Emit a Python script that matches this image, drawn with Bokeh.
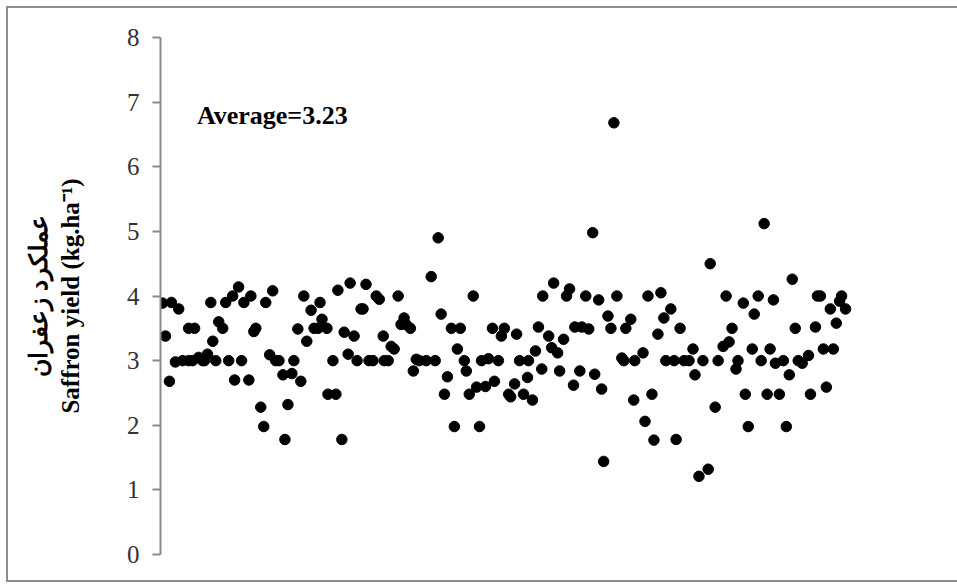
from bokeh.plotting import figure
from bokeh.models import Range1d, Label, FixedTicker, ColumnDataSource
from bokeh.embed import file_html
from bokeh.resources import INLINE

# sample position (order of samples) and saffron yield (kg/ha)
sample = [0.6, 1.5, 2.7, 3.3, 4.5, 5.5, 6.7, 8.5, 8.5, 9.7, 10.3, 11.5, 12.7, 13.3, 14.2, 15.2, 15.8, 16.7, 17.6, 18.8,
          19.7, 20.6, 21.8, 22.4, 23.6, 24.5, 25.2, 26.7, 27.3, 28.2, 28.8, 30.3, 31.2, 31.8, 33.0, 33.9, 34.8, 35.8, 37.0, 37.6,
          38.5, 39.7, 40.3, 41.5, 42.4, 43.3, 44.2, 45.5, 46.4, 47.6, 48.2, 48.8, 50.3, 50.6, 52.1, 53.0, 53.6, 54.8, 55.5, 56.7,
          57.3, 58.5, 59.4, 60.6, 61.2, 62.1, 63.0, 64.2, 65.2, 66.1, 67.3, 67.6, 68.8, 69.7, 70.6, 71.8, 72.7, 73.6, 74.2, 75.5,
          76.4, 77.3, 78.2, 80.3, 81.8, 83.0, 83.9, 84.8, 85.8, 86.7, 87.9, 88.8, 89.7, 90.6, 91.8, 92.4, 93.3, 94.5, 95.5, 96.4,
          97.0, 98.2, 99.1, 100.3, 100.9, 102.1, 103.0, 103.9, 105.2, 105.8, 107.0, 107.6, 108.5, 109.7, 110.9, 111.2, 112.4, 113.3, 114.2, 115.2,
          115.5, 117.3, 118.2, 118.8, 120.0, 120.6, 121.8, 122.7, 123.6, 124.8, 125.2, 126.7, 127.3, 128.5, 129.4, 130.6, 131.2, 132.4, 133.3, 133.9,
          135.2, 136.1, 137.0, 137.9, 139.4, 140.0, 140.6, 142.1, 143.3, 143.0, 145.8, 146.4, 147.3, 148.5, 149.1, 150.3, 151.2, 152.1, 152.7, 154.2,
          155.2, 155.8, 157.0, 158.2, 159.7, 160.9, 161.5, 162.7, 163.9, 165.5, 166.1, 167.6, 168.5, 170.0, 170.9, 171.8, 172.7, 173.9, 174.5, 176.1,
          176.7, 177.6, 178.8, 179.4, 180.6, 181.5, 182.4, 183.3, 184.2, 185.2, 185.8, 187.0, 188.2, 189.1, 190.0, 190.9, 191.8, 192.7, 193.9, 195.8,
          196.4, 197.9, 198.5, 199.4, 200.3, 201.2, 202.4, 203.3, 204.2, 205.2, 205.8, 207.0]
yield_kg = [3.89, 3.38, 2.68, 3.90, 2.98, 3.80, 3.00, 3.50, 3.00, 3.00, 3.50, 3.05, 3.00, 3.00, 3.10, 3.90, 3.30, 3.00, 3.60, 3.50,
            3.90, 3.00, 4.00, 2.70, 4.14, 3.00, 3.90, 2.70, 4.00, 3.45, 3.50, 2.28, 1.98, 3.90, 3.09, 4.08, 3.00, 3.00, 2.78, 1.78,
            2.32, 2.80, 3.00, 3.49, 2.68, 4.00, 3.30, 3.78, 3.50, 3.50, 3.90, 3.64, 3.50, 2.48, 3.00, 2.48, 4.09, 1.78, 3.44, 3.10,
            4.20, 3.38, 3.00, 3.80, 3.80, 4.18, 3.00, 3.00, 4.00, 3.95, 3.38, 3.00, 3.00, 3.22, 3.18, 4.00, 3.56, 3.66, 3.56, 3.50,
            2.84, 3.02, 3.00, 3.00, 4.30, 3.00, 4.90, 3.72, 2.48, 2.75, 3.50, 1.98, 3.18, 3.50, 3.00, 2.84, 2.48, 4.00, 2.59, 1.98,
            3.00, 2.60, 3.03, 3.50, 2.68, 3.00, 3.38, 3.50, 2.48, 2.44, 2.64, 3.41, 3.00, 2.48, 2.74, 3.00, 2.39, 3.15, 3.52, 2.87,
            4.00, 3.38, 3.20, 4.20, 3.12, 2.84, 3.33, 4.00, 4.11, 2.62, 3.52, 2.84, 3.52, 4.00, 3.49, 4.98, 2.79, 3.94, 2.56, 1.44,
            3.69, 3.50, 6.68, 4.00, 3.04, 3.00, 3.50, 3.64, 3.00, 2.39, 3.12, 2.06, 4.00, 2.48, 1.77, 3.41, 4.05, 3.66, 3.00, 3.80,
            3.00, 1.78, 3.50, 3.00, 3.00, 3.18, 2.78, 1.21, 3.00, 1.32, 4.50, 2.28, 3.00, 3.22, 4.00, 3.29, 3.50, 2.87, 3.00, 3.89,
            2.48, 1.98, 3.18, 3.72, 4.00, 3.00, 5.12, 2.48, 3.18, 3.94, 2.96, 2.48, 3.00, 1.98, 2.78, 4.26, 3.50, 3.00, 2.96, 3.08,
            2.48, 3.52, 4.00, 4.00, 3.18, 2.59, 3.80, 3.18, 3.58, 3.92, 4.00, 3.80]
y_ticks = [0, 1, 2, 3, 4, 5, 6, 7, 8]
average_text = "Average=3.23"
title_fa = "عملکرد زعفران"
title_en = "Saffron yield (kg.ha\u207b\u00b9)"

src = ColumnDataSource(dict(x=sample, y=yield_kg))

p = figure(width=951, height=576, output_backend="svg", toolbar_location=None,
           x_range=Range1d(0, 223.3), y_range=Range1d(0, 8),
           min_border_left=152, min_border_right=60, min_border_top=29, min_border_bottom=30)
p.margin = (6, 0, 0, 6)
p.styles = {"border-top": "2px solid #8e8e8e", "border-left": "2px solid #8e8e8e",
            "border-bottom": "2px solid #8e8e8e", "border-right": "none"}
p.outline_line_color = None
p.xgrid.visible = False
p.ygrid.visible = False
p.xaxis.visible = False
p.background_fill_color = "white"
p.border_fill_color = "white"

p.scatter("x", "y", source=src, size=10.5, color="black")

ax = p.yaxis[0]
ax.ticker = FixedTicker(ticks=y_ticks)
ax.axis_line_color = "#8a8a8a"
ax.axis_line_width = 2
ax.major_tick_line_color = "#8a8a8a"
ax.major_tick_line_width = 2
ax.major_tick_out = 8
ax.major_tick_in = 0
ax.minor_tick_line_color = None
ax.major_label_text_font = "Liberation Serif"
ax.major_label_text_font_size = "25px"
ax.major_label_text_color = "#333333"
ax.major_label_standoff = 13
ax.axis_label = title_fa + "\n" + title_en
ax.axis_label_text_font = "Liberation Serif"
ax.axis_label_text_font_style = "bold"
ax.axis_label_text_font_size = "25px"
ax.axis_label_text_color = "black"
ax.axis_label_standoff = 40

p.add_layout(Label(x=11.0, y=6.8, text=average_text, text_font="Liberation Serif",
                   text_font_style="bold", text_font_size="26px", text_color="black",
                   text_baseline="middle"))

open("out.html", "w").write(file_html(p, INLINE))
